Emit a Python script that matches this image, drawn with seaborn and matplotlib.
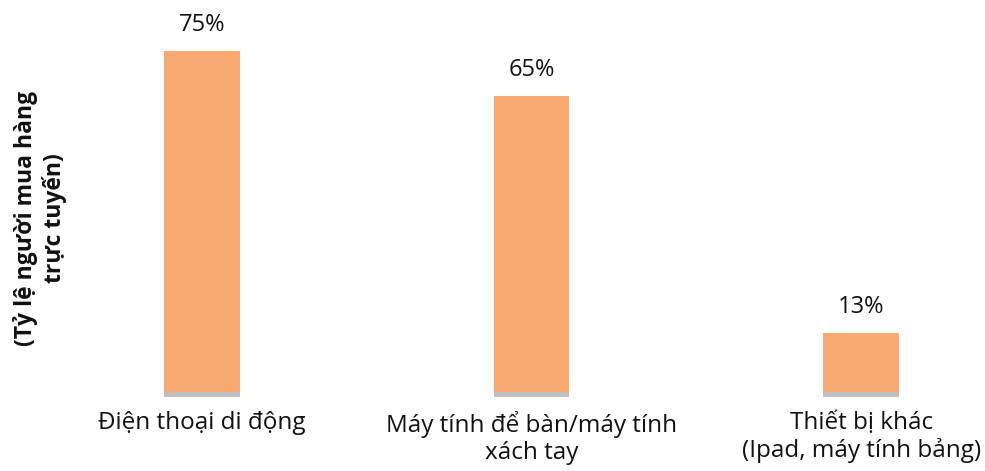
import matplotlib
matplotlib.use("Agg")
import matplotlib.pyplot as plt
import seaborn as sns
import pandas as pd

categories = ["Điện thoại di động", "Máy tính để bàn/máy tính\nxách tay", "Thiết bị khác\n(Ipad, máy tính bảng)"]
values = [75, 65, 13]
labels = ["75%", "65%", "13%"]
ylabel = "(Tỷ lệ người mua hàng\ntrực tuyến)"

sns.set_theme(style="white")
plt.rcParams['font.family'] = ['Open Sans', 'DejaVu Sans']

W, H = 985, 471
fig = plt.figure(figsize=(W / 100, H / 100), dpi=100)
# axes in pixel coords
L, R, B, T = 60, 985, 397, 0
ax = fig.add_axes([L / W, (H - B) / H, (R - L) / W, (B - T) / H])

df = pd.DataFrame({"cat": categories, "val": values})
sns.barplot(data=df, x="cat", y="val", color="#F8A971", saturation=1,
            width=0.23, ax=ax, edgecolor="none", linewidth=0)

floor = 1.1
ax.bar(range(len(categories)), [floor] * len(categories), bottom=-floor,
       width=0.23, color="#BFBFBF", linewidth=0)

for i, (v, lab) in enumerate(zip(values, labels)):
    ax.annotate(lab, (i, v), xytext=(0, 10), textcoords="offset points",
                ha="center", va="bottom", fontsize=17, color="#111111")

ax.set_xlim(-(202 - L) / 330, 2 + (R - 861) / 330)
k = 4.55
ax.set_ylim(-floor, -floor + (B - T) / k)
for s in ax.spines.values():
    s.set_visible(False)
ax.set_yticks([])
ax.set_xlabel("")
ax.set_ylabel("")
ax.tick_params(axis="x", length=0, pad=10, labelsize=17.5, labelcolor="#111111")
for t in ax.get_xticklabels():
    t.set_linespacing(1.15)

fig.text(40 / W, 1 - 218 / H, ylabel, rotation=90, ha="center", va="center",
         fontsize=16.5, fontweight="bold", color="#111111", linespacing=1.25,
         multialignment="center")

fig.savefig("out.png", dpi=100)
